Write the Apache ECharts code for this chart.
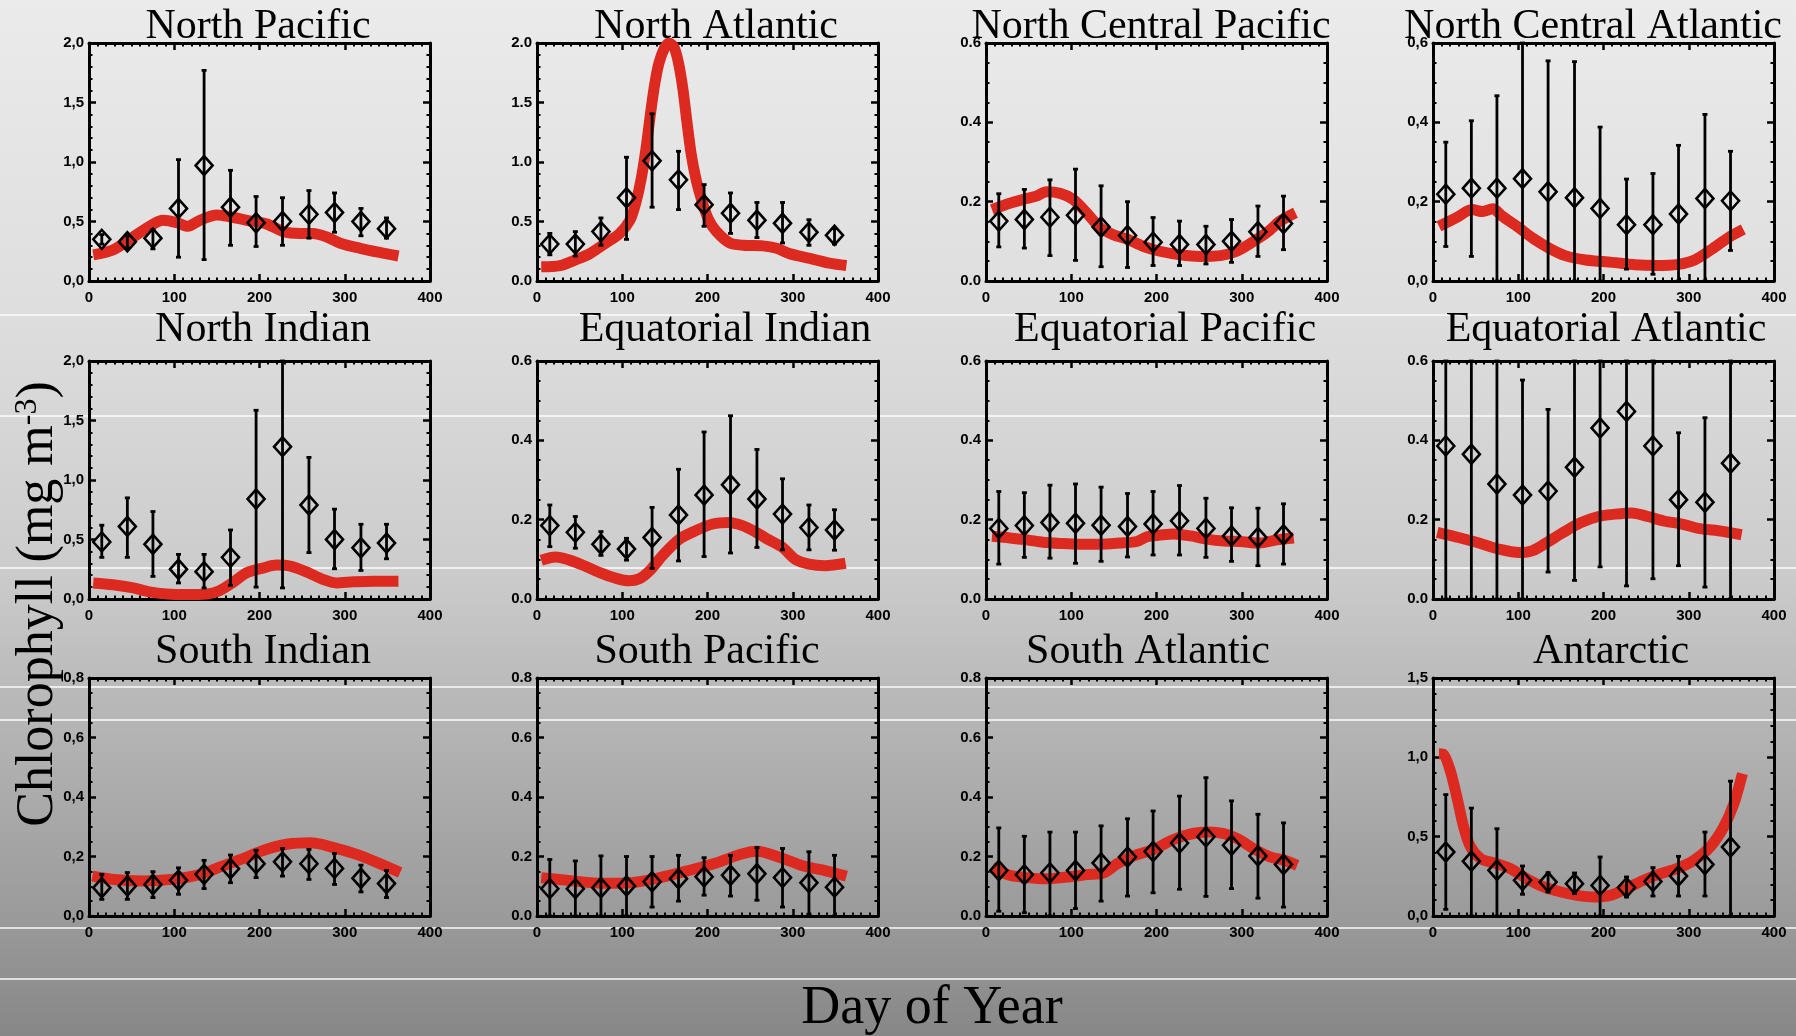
<!DOCTYPE html>
<html>
<head>
<meta charset="utf-8">
<script src="https://cdn.jsdelivr.net/npm/echarts@6/dist/echarts.min.js"></script>
<style>
  html, body { margin: 0; padding: 0; }
  #chart { width: 1796px; height: 1036px; }
</style>
</head>
<body>
<div id="chart"></div>
<script>
// monthly observation days
const obsDays = [15, 45, 75, 105, 135, 166, 196, 227, 258, 288, 319, 349];

// North Pacific
const npMean = [0.35, 0.33, 0.36, 0.61, 0.97, 0.62, 0.49, 0.50, 0.56, 0.575, 0.50, 0.44];
const npLow = [0.31, 0.28, 0.27, 0.20, 0.18, 0.30, 0.29, 0.30, 0.36, 0.41, 0.38, 0.36];
const npHigh = [0.39, 0.38, 0.43, 1.02, 1.77, 0.93, 0.71, 0.70, 0.76, 0.74, 0.61, 0.53];
const npModel = [[5,0.22],[28,0.26],[52,0.37],[71,0.46],[87,0.51],[103,0.49],[116,0.46],[130,0.51],[150,0.555],[165,0.54],[185,0.51],[208,0.48],[228,0.415],[247,0.40],[263,0.40],[279,0.37],[294,0.32],[318,0.275],[341,0.24],[363,0.21]];

// North Atlantic
const naMean = [0.31, 0.31, 0.415, 0.70, 1.01, 0.85, 0.64, 0.57, 0.51, 0.485, 0.41, 0.385];
const naLow = [0.22, 0.21, 0.30, 0.35, 0.62, 0.60, 0.46, 0.40, 0.365, 0.32, 0.30, 0.31];
const naHigh = [0.40, 0.415, 0.53, 1.04, 1.405, 1.09, 0.81, 0.74, 0.66, 0.66, 0.515, 0.44];
const naModel = [[5,0.12],[27,0.13],[46,0.18],[62,0.23],[81,0.32],[97,0.40],[109,0.51],[116,0.66],[122,0.85],[128,1.12],[133,1.4],[138,1.65],[143,1.83],[149,1.95],[155,2.0],[161,1.96],[166,1.83],[171,1.62],[176,1.33],[181,1.06],[187,0.84],[194,0.66],[201,0.52],[210,0.42],[226,0.32],[242,0.30],[265,0.295],[281,0.275],[296,0.23],[320,0.19],[343,0.15],[363,0.13]];

// North Central Pacific
const ncpMean = [0.151, 0.155, 0.161, 0.166, 0.136, 0.115, 0.098, 0.092, 0.092, 0.10, 0.124, 0.145];
const ncpLow = [0.086, 0.083, 0.064, 0.052, 0.036, 0.034, 0.039, 0.039, 0.043, 0.047, 0.062, 0.079];
const ncpHigh = [0.22, 0.231, 0.255, 0.282, 0.24, 0.20, 0.16, 0.151, 0.138, 0.155, 0.189, 0.214];
const ncpModel = [[7,0.18],[28,0.196],[48,0.208],[59,0.214],[71,0.225],[87,0.221],[102,0.206],[118,0.172],[134,0.134],[149,0.117],[165,0.106],[185,0.087],[204,0.075],[228,0.066],[251,0.062],[275,0.064],[294,0.075],[314,0.10],[330,0.123],[345,0.151],[363,0.172]];

// North Central Atlantic
const ncaMean = [0.219, 0.234, 0.234, 0.258, 0.225, 0.21, 0.183, 0.142, 0.142, 0.169, 0.208, 0.202];
const ncaLow = [0.087, 0.062, 0, 0, 0, 0, 0, 0.03, 0.017, 0, 0, 0.077];
const ncaHigh = [0.35, 0.404, 0.467, 0.6, 0.555, 0.553, 0.388, 0.257, 0.271, 0.342, 0.42, 0.327];
const ncaModel = [[7,0.138],[27,0.159],[46,0.18],[58,0.175],[70,0.182],[81,0.164],[101,0.134],[117,0.108],[136,0.083],[155,0.064],[179,0.053],[210,0.047],[237,0.041],[261,0.039],[288,0.042],[307,0.053],[327,0.08],[347,0.11],[364,0.13]];

// North Indian
const niMean = [0.48, 0.61, 0.46, 0.25, 0.23, 0.35, 0.84, 1.28, 0.79, 0.50, 0.43, 0.47];
const niLow = [0.35, 0.35, 0.19, 0.135, 0.093, 0.115, 0.10, 0.093, 0.39, 0.254, 0.24, 0.338];
const niHigh = [0.62, 0.85, 0.735, 0.375, 0.375, 0.58, 1.586, 2.0, 1.19, 0.755, 0.628, 0.628];
const niModel = [[5,0.135],[28,0.12],[52,0.093],[71,0.06],[91,0.042],[114,0.037],[138,0.042],[153,0.07],[169,0.14],[185,0.22],[204,0.26],[220,0.285],[236,0.276],[255,0.228],[275,0.163],[290,0.135],[310,0.144],[333,0.15],[363,0.15]];

// Equatorial Indian
const eiMean = [0.185, 0.168, 0.138, 0.126, 0.155, 0.212, 0.262, 0.288, 0.252, 0.214, 0.18, 0.174];
const eiLow = [0.132, 0.128, 0.11, 0.098, 0.077, 0.096, 0.107, 0.116, 0.13, 0.124, 0.124, 0.123];
const eiHigh = [0.237, 0.208, 0.17, 0.153, 0.231, 0.327, 0.421, 0.462, 0.377, 0.303, 0.237, 0.225];
const eiModel = [[5,0.098],[22,0.106],[38,0.098],[54,0.085],[73,0.067],[93,0.052],[108,0.046],[120,0.051],[132,0.071],[147,0.109],[167,0.151],[186,0.172],[206,0.189],[225,0.193],[241,0.185],[257,0.168],[272,0.149],[288,0.13],[303,0.10],[319,0.088],[338,0.084],[362,0.09]];

// Equatorial Pacific
const epMean = [0.178, 0.185, 0.193, 0.191, 0.186, 0.183, 0.189, 0.197, 0.178, 0.159, 0.155, 0.162];
const epLow = [0.088, 0.105, 0.103, 0.09, 0.095, 0.106, 0.111, 0.111, 0.105, 0.095, 0.084, 0.088];
const epHigh = [0.271, 0.268, 0.287, 0.29, 0.282, 0.266, 0.271, 0.286, 0.254, 0.23, 0.229, 0.24];
const epModel = [[7,0.158],[28,0.154],[48,0.149],[67,0.143],[87,0.14],[110,0.138],[134,0.138],[157,0.141],[177,0.145],[189,0.157],[204,0.161],[220,0.164],[240,0.159],[259,0.151],[279,0.146],[298,0.145],[321,0.141],[341,0.149],[361,0.154]];

// Equatorial Atlantic
const eaMean = [0.386, 0.365, 0.29, 0.262, 0.272, 0.332, 0.431, 0.473, 0.386, 0.25, 0.244, 0.342];
const eaLow = [0, 0, 0, 0, 0.068, 0.047, 0.081, 0.033, 0.051, 0.084, 0.03, 0];
const eaHigh = [0.6, 0.6, 0.6, 0.552, 0.478, 0.6, 0.6, 0.6, 0.6, 0.419, 0.457, 0.6];
const eaModel = [[5,0.168],[30,0.155],[54,0.141],[77,0.126],[101,0.117],[117,0.122],[134,0.143],[153,0.168],[173,0.192],[194,0.208],[214,0.214],[233,0.217],[252,0.208],[272,0.196],[292,0.189],[311,0.178],[335,0.172],[362,0.162]];

// South Indian
const siMean = [0.095, 0.101, 0.106, 0.12, 0.14, 0.159, 0.176, 0.182, 0.176, 0.16, 0.127, 0.109];
const siLow = [0.056, 0.056, 0.062, 0.073, 0.092, 0.112, 0.129, 0.134, 0.123, 0.106, 0.081, 0.062];
const siHigh = [0.14, 0.146, 0.149, 0.162, 0.187, 0.205, 0.221, 0.227, 0.224, 0.21, 0.171, 0.153];
const siModel = [[4,0.134],[29,0.123],[63,0.118],[97,0.123],[131,0.14],[151,0.162],[178,0.19],[205,0.221],[232,0.241],[260,0.246],[287,0.23],[314,0.207],[341,0.176],[365,0.146]];

// South Pacific
const spMean = [0.092, 0.092, 0.095, 0.101, 0.115, 0.125, 0.132, 0.137, 0.142, 0.129, 0.112, 0.097];
const spLow = [0, 0, 0, 0, 0.03, 0.05, 0.07, 0.067, 0.053, 0.03, 0.006, 0];
const spHigh = [0.19, 0.185, 0.202, 0.2, 0.2, 0.204, 0.196, 0.204, 0.23, 0.227, 0.216, 0.204];
const spModel = [[5,0.129],[42,0.118],[76,0.11],[110,0.112],[144,0.129],[178,0.153],[211,0.179],[238,0.207],[258,0.218],[286,0.196],[313,0.168],[340,0.151],[363,0.134]];

// South Atlantic
const saMean = [0.153, 0.139, 0.145, 0.153, 0.178, 0.198, 0.217, 0.245, 0.266, 0.238, 0.202, 0.173];
const saLow = [0.016, 0.011, 0, 0.025, 0.05, 0.067, 0.078, 0.09, 0.066, 0.092, 0.06, 0.03];
const saHigh = [0.296, 0.268, 0.282, 0.282, 0.303, 0.327, 0.353, 0.403, 0.465, 0.387, 0.342, 0.313];
const saModel = [[7,0.162],[28,0.137],[48,0.129],[71,0.125],[95,0.131],[118,0.139],[138,0.145],[154,0.176],[173,0.202],[197,0.224],[216,0.252],[236,0.273],[260,0.282],[279,0.277],[295,0.26],[314,0.226],[334,0.198],[350,0.187],[365,0.17]];

// Antarctic
const anMean = [0.403, 0.345, 0.288, 0.225, 0.214, 0.204, 0.193, 0.179, 0.218, 0.252, 0.324, 0.435];
const anLow = [0.042, 0, 0, 0.137, 0.151, 0.141, 0, 0.12, 0.126, 0.126, 0.126, 0];
const anHigh = [0.765, 0.68, 0.55, 0.315, 0.273, 0.271, 0.372, 0.246, 0.305, 0.376, 0.529, 0.85];
const anModel = [[7,1.023],[12,1.02],[20,0.92],[28,0.75],[36,0.56],[44,0.435],[56,0.361],[71,0.336],[91,0.298],[110,0.235],[130,0.183],[150,0.151],[169,0.13],[189,0.12],[208,0.13],[228,0.176],[247,0.225],[267,0.267],[286,0.298],[306,0.351],[325,0.435],[341,0.561],[353,0.708],[363,0.897]];

const xTicks = [0, 400, 100];

// panels in reading order: title, data, y range [max, step, minor splits], decimal mark
const panels = [
  { title: "North Pacific", mean: npMean, low: npLow, high: npHigh, model: npModel, yMax: 2.0, yStep: 0.5, minor: 5, sep: "," },
  { title: "North Atlantic", mean: naMean, low: naLow, high: naHigh, model: naModel, yMax: 2.0, yStep: 0.5, minor: 5, sep: "." },
  { title: "North Central Pacific", mean: ncpMean, low: ncpLow, high: ncpHigh, model: ncpModel, yMax: 0.6, yStep: 0.2, minor: 4, sep: "." },
  { title: "North Central Atlantic", mean: ncaMean, low: ncaLow, high: ncaHigh, model: ncaModel, yMax: 0.6, yStep: 0.2, minor: 4, sep: "," },
  { title: "North Indian", mean: niMean, low: niLow, high: niHigh, model: niModel, yMax: 2.0, yStep: 0.5, minor: 5, sep: "," },
  { title: "Equatorial Indian", mean: eiMean, low: eiLow, high: eiHigh, model: eiModel, yMax: 0.6, yStep: 0.2, minor: 4, sep: "." },
  { title: "Equatorial Pacific", mean: epMean, low: epLow, high: epHigh, model: epModel, yMax: 0.6, yStep: 0.2, minor: 4, sep: "." },
  { title: "Equatorial Atlantic", mean: eaMean, low: eaLow, high: eaHigh, model: eaModel, yMax: 0.6, yStep: 0.2, minor: 4, sep: "." },
  { title: "South Indian", mean: siMean, low: siLow, high: siHigh, model: siModel, yMax: 0.8, yStep: 0.2, minor: 4, sep: "," },
  { title: "South Pacific", mean: spMean, low: spLow, high: spHigh, model: spModel, yMax: 0.8, yStep: 0.2, minor: 4, sep: "." },
  { title: "South Atlantic", mean: saMean, low: saLow, high: saHigh, model: saModel, yMax: 0.8, yStep: 0.2, minor: 4, sep: "." },
  { title: "Antarctic", mean: anMean, low: anLow, high: anHigh, model: anModel, yMax: 1.5, yStep: 0.5, minor: 5, sep: "," },
];

// layout
const colLeft = [89, 537, 986, 1433];
const rowTop = [43, 361, 678];
const plotW = 341;
const plotH = 238;
const titleX = [[258, 716, 1151, 1593], [263, 725, 1165, 1606], [263, 707, 1148, 1611]];
const titleY = [27, 330, 652];
const whiteLines = [315, 416, 568, 687, 720, 928, 979];

const labelFont = { color: "#000", fontFamily: "Liberation Sans", fontWeight: "bold", fontSize: 15 };
const lineBlack = { color: "#000", width: 3 };

const grids = [];
const xAxes = [];
const yAxes = [];
const series = [];
const graphics = [];

graphics.push({
  type: "rect", z: -10, silent: true,
  shape: { x: 0, y: 0, width: 1796, height: 1036 },
  style: {
    fill: new echarts.graphic.LinearGradient(0, 0, 0, 1, [
      { offset: 0, color: "#ebebeb" },
      { offset: 0.3, color: "#dedede" },
      { offset: 0.55, color: "#cccccc" },
      { offset: 0.67, color: "#b9b9b9" },
      { offset: 0.88, color: "#9b9b9b" },
      { offset: 1, color: "#878787" },
    ]),
  },
});
whiteLines.forEach((y) => {
  graphics.push({
    type: "line", z: -9, silent: true,
    shape: { x1: 0, y1: y, x2: 1796, y2: y },
    style: { stroke: "rgba(255,255,255,0.95)", lineWidth: 1.5 },
  });
});

const errorBar = (params, api) => {
  const x = api.value(0);
  const lo = api.coord([x, api.value(1)]);
  const hi = api.coord([x, api.value(2)]);
  const st = { stroke: "#000", lineWidth: 2.8 };
  return {
    type: "group",
    children: [
      { type: "line", shape: { x1: lo[0], y1: lo[1], x2: hi[0], y2: hi[1] }, style: st },
      { type: "line", shape: { x1: lo[0] - 2.5, y1: lo[1], x2: lo[0] + 2.5, y2: lo[1] }, style: st },
      { type: "line", shape: { x1: hi[0] - 2.5, y1: hi[1], x2: hi[0] + 2.5, y2: hi[1] }, style: st },
    ],
  };
};

panels.forEach((p, i) => {
  const r = Math.floor(i / 4);
  const c = i % 4;
  grids.push({ left: colLeft[c], top: rowTop[r], width: plotW, height: plotH });

  const xBase = {
    gridIndex: i, type: "value", min: xTicks[0], max: xTicks[1], interval: xTicks[2],
    axisLine: { show: true, onZero: false, lineStyle: lineBlack },
    axisTick: { show: true, inside: true, length: 7, lineStyle: { color: "#000", width: 2.5 } },
    minorTick: { show: true, splitNumber: 10, length: 3.5, lineStyle: { color: "#000", width: 2 } },
    splitLine: { show: false },
  };
  xAxes.push({
    ...xBase, position: "bottom",
    axisLabel: { ...labelFont, margin: 9, showMinLabel: true, showMaxLabel: true },
  });
  xAxes.push({ ...xBase, position: "top", axisLabel: { show: false } });

  const yBase = {
    gridIndex: i, type: "value", min: 0, max: p.yMax, interval: p.yStep,
    axisLine: { show: true, onZero: false, lineStyle: lineBlack },
    axisTick: { show: true, inside: true, length: 7, lineStyle: { color: "#000", width: 2.5 } },
    minorTick: { show: true, splitNumber: p.minor, length: 3.5, lineStyle: { color: "#000", width: 2 } },
    splitLine: { show: false },
  };
  yAxes.push({
    ...yBase, position: "left",
    axisLabel: { ...labelFont, margin: 5, formatter: (v) => v.toFixed(1).replace(".", p.sep) },
  });
  yAxes.push({ ...yBase, position: "right", axisLabel: { show: false } });

  series.push({
    type: "line", xAxisIndex: 2 * i, yAxisIndex: 2 * i, z: 2,
    data: p.model, smooth: 0.3, showSymbol: false, symbol: "none", clip: false,
    lineStyle: { color: "#dd2a20", width: 11 },
    silent: true,
  });
  series.push({
    type: "custom", xAxisIndex: 2 * i, yAxisIndex: 2 * i, z: 3,
    renderItem: errorBar, encode: { x: 0, y: [1, 2] },
    data: obsDays.map((d, k) => [d, p.low[k], p.high[k]]),
    silent: true,
  });
  series.push({
    type: "scatter", xAxisIndex: 2 * i, yAxisIndex: 2 * i, z: 4,
    data: obsDays.map((d, k) => [d, p.mean[k]]),
    symbol: "diamond", symbolSize: [17, 19],
    itemStyle: { color: "transparent", borderColor: "#000", borderWidth: 2.6, opacity: 1 },
    silent: true,
  });

  graphics.push({
    type: "text", z: 10, x: titleX[r][c], y: titleY[r],
    style: {
      text: p.title, fill: "#000", fontFamily: "Liberation Serif", fontSize: 42,
      align: "center", verticalAlign: "middle", textAlign: "center", textVerticalAlign: "middle",
    },
  });
});

graphics.push({
  type: "text", z: 10, x: 932, y: 1009,
  style: {
    text: "Day of Year", fill: "#000", fontFamily: "Liberation Serif", fontSize: 54,
    align: "center", verticalAlign: "middle", textAlign: "center", textVerticalAlign: "middle",
  },
});
graphics.push({
  type: "text", z: 10, x: 38, y: 604, rotation: Math.PI / 2,
  style: {
    text: "Chlorophyll (mg m{sup|-3})", fill: "#000", fontFamily: "Liberation Serif", fontSize: 52,
    align: "center", verticalAlign: "middle", textAlign: "center", textVerticalAlign: "middle",
    rich: { sup: { fontFamily: "Liberation Serif", fontSize: 32, verticalAlign: "top", fill: "#000" } },
  },
});

const chart = echarts.init(document.getElementById("chart"), null, { renderer: "canvas" });
chart.setOption({
  animation: false,
  grid: grids,
  xAxis: xAxes,
  yAxis: yAxes,
  series: series,
  graphic: { elements: graphics },
});
</script>
</body>
</html>
